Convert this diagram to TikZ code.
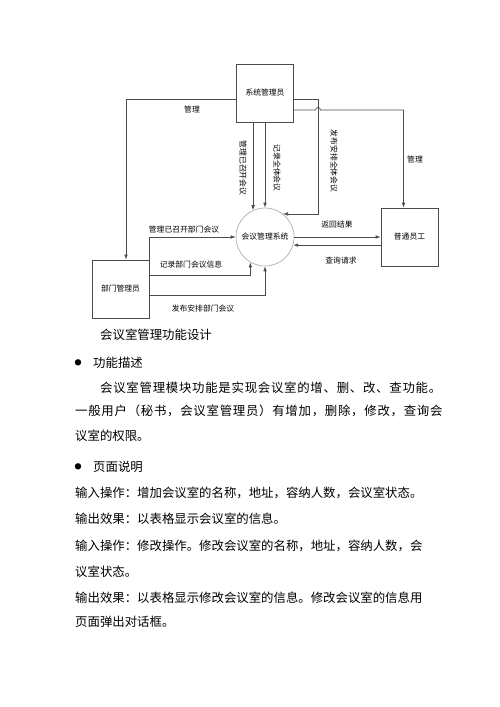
\documentclass[tikz,border=0pt]{standalone}
\usepackage{fontspec}
\newfontfamily\cjk{Noto Sans CJK SC}
\usetikzlibrary{arrows.meta}
\begin{document}
\begin{tikzpicture}[
  x=1pt, y=-1pt,
  box/.style={rectangle, draw=black!70, line width=0.7pt, minimum width=57pt, minimum height=58pt, inner sep=0pt, font=\cjk\fontsize{7.8pt}{9pt}\selectfont},
  proc/.style={circle, draw=black!35, line width=0.6pt, minimum size=58pt, inner sep=0pt, font=\cjk\fontsize{7.8pt}{9pt}\selectfont},
  flow/.style={draw=black!70, line width=0.7pt, -{Latex[length=5pt,width=3.6pt]}},
  lbl/.style={inner sep=0pt, font=\cjk\fontsize{7.8pt}{9pt}\selectfont},
  vlbl/.style={lbl, rotate=-90},
  txt/.style={anchor=west, inner sep=0pt, font=\cjk\fontsize{12.4pt}{15pt}\selectfont},
  wide/.style={txt, font=\cjk\fontsize{12.4pt}{15pt}\selectfont\addfontfeature{LetterSpace=6}},
  dot/.style={inner sep=0pt, font=\cjk\fontsize{7pt}{8pt}\selectfont}
]
\useasboundingbox (0,0) rectangle (500,707);

% diagram
\node[box] (admin) at (265,93) {系统管理员};
\node[box] (dept) at (120.5,289) {部门管理员};
\node[box] (staff) at (409.5,237) {普通员工};
\node[proc] (sys) at (265,237) {会议管理系统};
\coordinate (hop) at (318,110);

\draw[flow] ([yshift=-6pt]admin.west) -| ([xshift=5.5pt]dept.north);
\draw[flow] (admin.south -| sys.114) -- (sys.114);
\draw[flow] (admin.south -| sys.north) -- (sys.north);
\draw[flow] ([yshift=-6pt]admin.east) -| (hop |- sys.52) -- (sys.52);
\draw[flow] ([yshift=-17pt]admin.east) -- ([xshift=-2.5pt]hop) arc (180:0:2.5pt) -| ([xshift=-6pt]staff.north);
\draw[flow] (sys.east) -- (staff.west);
\draw[flow] (staff.west |- sys.-16) -- (sys.-16);
\draw[flow] (dept.north east) |- (sys.west);
\draw[flow] ([yshift=14pt]dept.east) -| (sys.240);
\draw[flow] ([yshift=-6.7pt]dept.east) -| (sys.south);

\node[lbl] (mgl) at (192,110) {管理};
\node[vlbl] (held) at (243,168) {管理已召开会议};
\node[vlbl] (rec) at (277,168) {记录全体会议};
\node[vlbl] (pub) at (334,161) {发布安排全体会议};
\node[lbl] (mgr) at (415,160) {管理};
\node[lbl] (ret) at (337,225) {返回结果};
\node[lbl] (qry) at (341,261) {查询请求};
\node[lbl] (dheld) at (184,230) {管理已召开部门会议};
\node[lbl] (drec) at (191,265) {记录部门会议信息};
\node[lbl] (dpub) at (203,309) {发布安排部门会议};

% text below
\node[txt] (t1) at (100,335) {会议室管理功能设计};
\node[dot] (b1) at (78,363) {●};
\node[txt] (t2) at (93,363) {功能描述};
\node[wide] (t3) at (100,388) {会议室管理模块功能是实现会议室的增、删、改、查功能。};
\node[wide] (t4) at (75,411) {一般用户（秘书，会议室管理员）有增加，删除，修改，查询会};
\node[txt] (t5) at (75,436) {议室的权限。};
\node[dot] (b2) at (78,467) {●};
\node[txt] (t6) at (93,467) {页面说明};
\node[txt] (t7) at (75,493) {输入操作：增加会议室的名称，地址，容纳人数，会议室状态。};
\node[txt] (t8) at (75,519) {输出效果：以表格显示会议室的信息。};
\node[txt] (t9) at (75,546) {输入操作：修改操作。修改会议室的名称，地址，容纳人数，会};
\node[txt] (t10) at (75,572) {议室状态。};
\node[txt] (t11) at (75,598) {输出效果：以表格显示修改会议室的信息。修改会议室的信息用};
\node[txt] (t12) at (75,622) {页面弹出对话框。};
\end{tikzpicture}
\end{document}
